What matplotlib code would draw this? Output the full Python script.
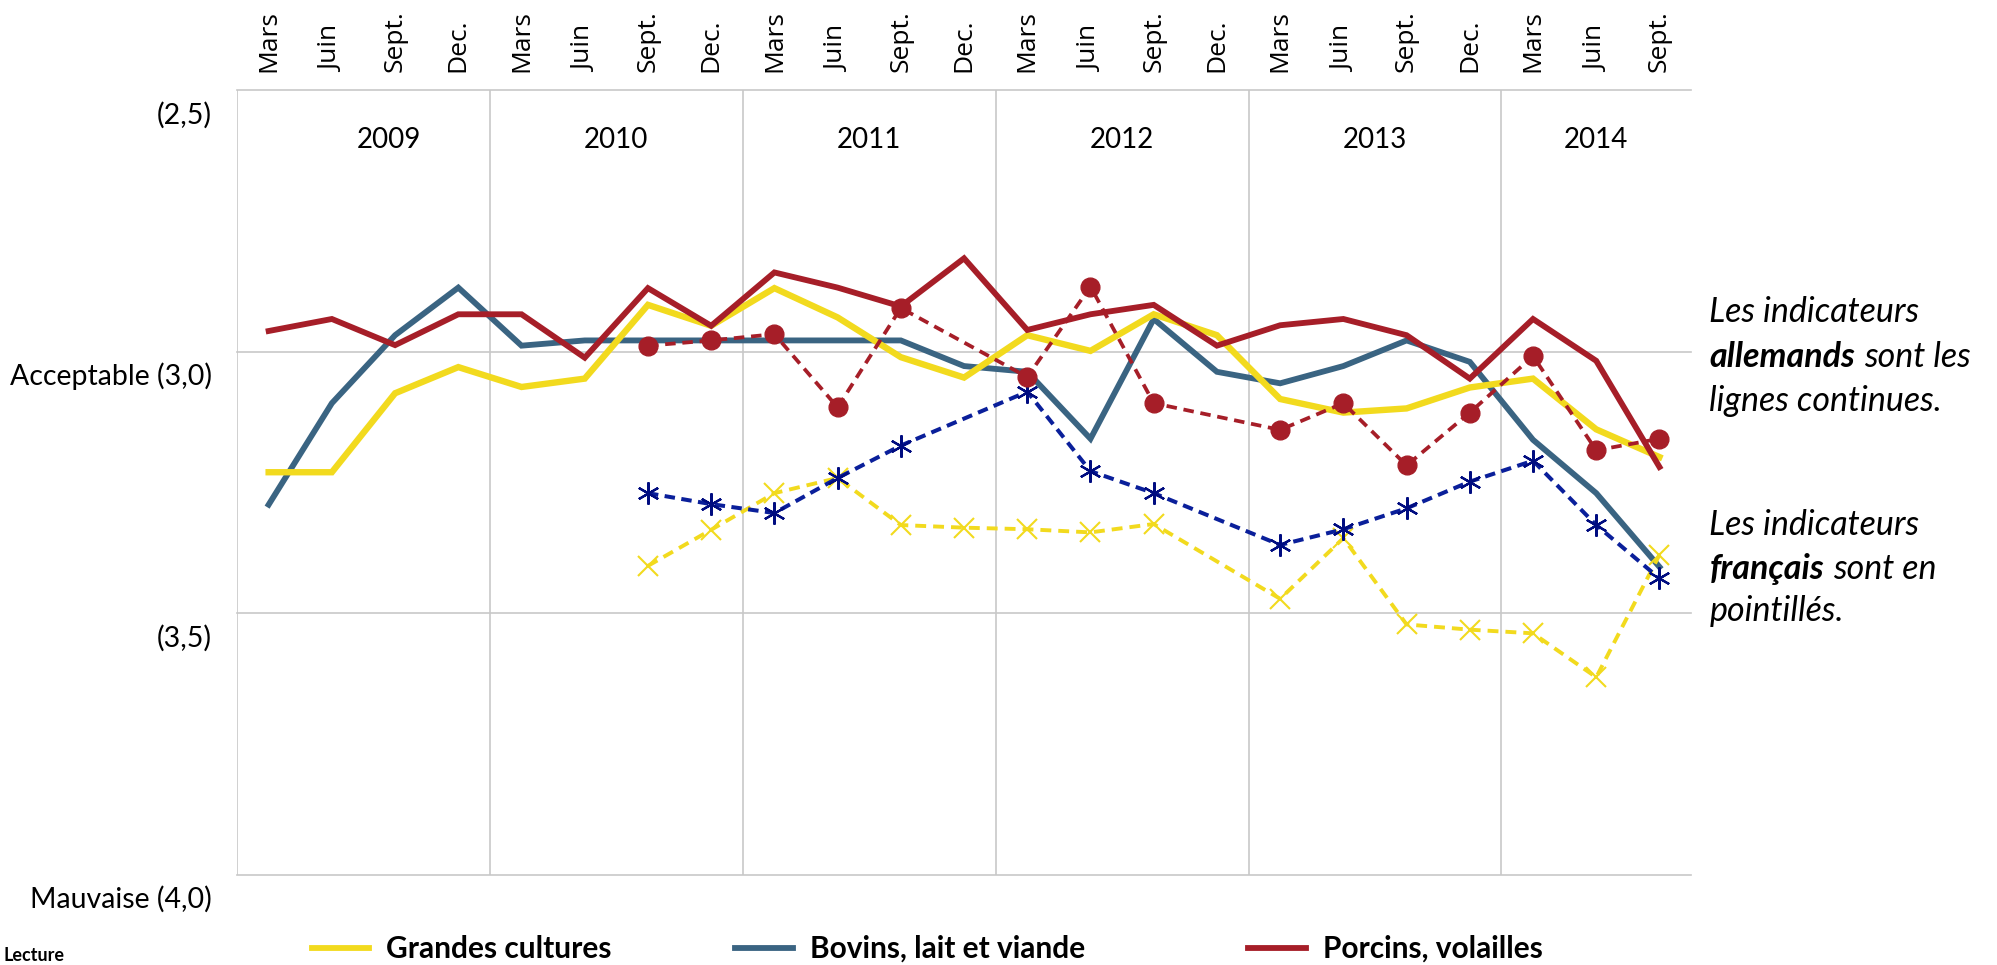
import numpy as np
import matplotlib
matplotlib.use("Agg")
import matplotlib.pyplot as plt
from matplotlib.lines import Line2D
from matplotlib.transforms import ScaledTranslation

nan = np.nan

# Categories
months = ['Mars', 'Juin', 'Sept.', 'Dec.'] * 5 + ['Mars', 'Juin', 'Sept.']
years = ['2009', '2010', '2011', '2012', '2013', '2014']
year_len = [4, 4, 4, 4, 4, 3]
ytick_vals = [2.5, 3.0, 3.5, 4.0]
ytick_labels = ['(2,5)', 'Acceptable (3,0)', '(3,5)', 'Mauvaise (4,0)']

# German indicators (solid lines)
de_grandes = [3.230, 3.230, 3.079, 3.029, 3.067, 3.051, 2.910, 2.950, 2.878, 2.934, 3.010, 3.049,
              2.968, 2.998, 2.928, 2.968, 3.090, 3.116, 3.108, 3.068, 3.051, 3.148, 3.201]
de_bovins = [3.292, 3.098, 2.968, 2.877, 2.988, 2.978, 2.978, 2.978, 2.978, 2.978, 2.978, 3.027,
             3.038, 3.166, 2.937, 3.038, 3.060, 3.027, 2.978, 3.019, 3.168, 3.270, 3.411]
de_porcins = [2.960, 2.937, 2.987, 2.928, 2.928, 3.011, 2.878, 2.950, 2.848, 2.877, 2.913, 2.821,
              2.958, 2.928, 2.910, 2.988, 2.949, 2.937, 2.968, 3.051, 2.937, 3.017, 3.220]

# French indicators (dashed lines), missing quarters left empty
fr_grandes = [nan] * 6 + [3.409, 3.340, 3.270, 3.241, 3.331, 3.336, 3.339, 3.345, 3.329, nan,
                          3.472, 3.356, 3.521, 3.531, 3.538, 3.622, 3.388]
fr_bovins = [nan] * 6 + [3.270, 3.291, 3.308, 3.241, 3.179, nan, 3.076, 3.228, 3.270, nan,
                         3.369, 3.339, 3.299, 3.248, 3.208, 3.331, 3.433]
fr_porcins = [nan] * 6 + [2.988, 2.978, 2.966, 3.106, 2.916, nan, 3.048, 2.875, 3.098, nan,
                          3.149, 3.098, 3.217, 3.116, 3.008, 3.188, 3.166]

legend_labels = ['Grandes cultures', 'Bovins, lait et viande', 'Porcins, volailles']

YEL = '#F2DA1E'
BOV = '#3A6482'
RED = '#A61E28'
NAVY = '#0A1F9A'
GRID = '#C8C8C8'

SANS = ['Lato', 'DejaVu Sans']

fig = plt.figure(figsize=(19.97, 9.65), dpi=100)
ax = fig.add_axes([0.1187, 0.0933, 0.7281, 0.813])

x = np.arange(len(months))


def plot_series(vals, **kw):
    v = np.array(vals, dtype=float)
    m = ~np.isnan(v)
    ax.plot(x[m], v[m], **kw)


# solid lines
plot_series(de_bovins, color=BOV, lw=4.2, solid_joinstyle='miter', zorder=3)
plot_series(de_grandes, color=YEL, lw=4.6, solid_joinstyle='miter', zorder=3)
plot_series(de_porcins, color=RED, lw=4.2, solid_joinstyle='miter', zorder=3)

# dashed lines
plot_series(fr_grandes, color=YEL, lw=2.8, dashes=(2.8, 1.8), marker='x', ms=14, mew=1.5, zorder=4)
plot_series(fr_bovins, color=NAVY, lw=2.9, dashes=(2.6, 1.6), marker=(6, 2, 0), ms=16, mew=1.6,
            mec='#000C80', zorder=4)
plot_series(fr_porcins, color=RED, lw=2.7, dashes=(2.8, 1.8), marker='o', ms=13.5, zorder=5)

ax.set_xlim(-0.5, 22.5)
ax.set_ylim(4.0, 2.5)

for s in ax.spines.values():
    s.set_visible(False)

# month labels on top
ax.xaxis.tick_top()
ax.set_xticks(x)
ax.set_xticklabels(months, rotation=90, family=['Open Sans', 'DejaVu Sans'], fontsize=19)
bounds = [-0.5] + list(np.cumsum(year_len)[:-1] - 0.5)
ax.set_xticks(bounds, minor=True)
ax.tick_params(axis='x', which='both', length=0, pad=13)
ax.grid(axis='x', which='minor', color=GRID, lw=1.2)

# y labels
ax.set_yticks(ytick_vals)
ax.set_yticklabels(ytick_labels, family=SANS, fontsize=20.5)
ax.tick_params(axis='y', length=0, pad=18)
ax.grid(axis='y', which='major', color=GRID, lw=1.2)
for lab in ax.get_yticklabels():
    lab.set_transform(lab.get_transform() + ScaledTranslation(0, -0.22, fig.dpi_scale_trans))
for gl in ax.get_ygridlines() + ax.get_xgridlines():
    gl.set_clip_on(False)

# year labels
start = 0
for yr, n in zip(years, year_len):
    cx = start + (n - 1) / 2
    if yr == '2009':
        cx += 0.4
    ax.text(cx, 2.595, yr, ha='center', va='center', family=SANS, fontsize=20)
    start += n

# legend drawn by hand
leg_y = 1 - 949 / 965
leg_items = [(0.156, YEL, legend_labels[0]), (0.368, BOV, legend_labels[1]), (0.625, RED, legend_labels[2])]
for lx, col, lab in leg_items:
    fig.add_artist(Line2D([lx, lx + 0.029], [leg_y + 0.001, leg_y + 0.001], color=col, lw=4.2))
    fig.text(lx + 0.0375, leg_y, lab, ha='left', va='center', family=SANS, fontsize=21.5, weight='bold')

fig.text(0.002, 0.001, 'Lecture', ha='left', va='bottom', family=SANS, fontsize=13, weight='bold')

# side notes: italic text with one bold word
renderer = fig.canvas.get_renderer()


def rich_line(xf, yf, parts, size=24.5):
    cur = xf
    for txt, wt in parts:
        t = fig.text(cur, yf, txt, ha='left', va='center', family=SANS, fontsize=size,
                     style='italic', weight=wt)
        bb = t.get_window_extent(renderer)
        cur = bb.x1 / fig.bbox.width + 0.26 * size * 1.389 / fig.bbox.width


note_x = 0.856
rich_line(note_x, 1 - 312 / 965, [('Les indicateurs', 'normal')])
rich_line(note_x, 1 - 357 / 965, [('allemands', 'bold'), ('sont les', 'normal')])
rich_line(note_x, 1 - 401 / 965, [('lignes continues.', 'normal')])
rich_line(note_x, 1 - 525 / 965, [('Les indicateurs', 'normal')])
rich_line(note_x, 1 - 569 / 965, [('français', 'bold'), ('sont en', 'normal')])
rich_line(note_x, 1 - 611 / 965, [('pointillés.', 'normal')])

fig.savefig('out.png', dpi=100, facecolor='white')
